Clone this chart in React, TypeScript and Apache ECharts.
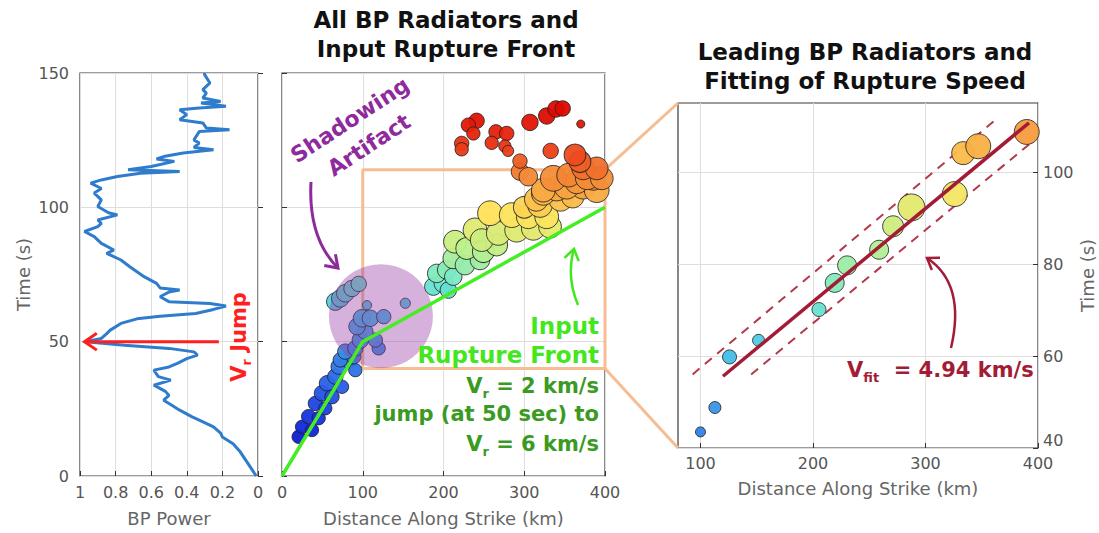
import React, { useEffect, useRef } from "react";
import * as echarts from "echarts";

// ---------- Left panel: beam-power time series ----------
const bpTime = [0, 3, 6, 9, 12, 14.5, 16, 18.3, 20.8, 22, 24.5, 27, 28.2, 30, 31.5, 33.8, 35.7, 37, 39.4, 40.6, 42, 43.7, 45, 46.2, 47.5, 48.7, 50, 51.2, 53, 54.3, 56.8, 58.5, 59.5, 60.5, 62, 63.3, 64.2, 64.9, 66.7, 68.5, 69.2, 70, 71.7, 74.2, 76, 77.9, 80.4, 82.9, 84.1, 86.6, 89.1, 91, 92.8, 94, 95.3, 97.2, 98, 100.3, 102.8, 105.3, 107, 109, 110.2, 111.5, 112.7, 113.3, 114, 115.2, 117.1, 118, 118.9, 120.2, 121.4, 122.3, 123.9, 125.1, 128.2, 128.9, 129.5, 131.4, 132.6, 134.5, 136.3, 137, 137.6, 138.8, 139.4, 140.7, 142.5, 143.8, 146.3, 149.4, 150];
const bpPower = [0.01, 0.04, 0.07, 0.1, 0.14, 0.2, 0.21, 0.25, 0.33, 0.37, 0.44, 0.5, 0.53, 0.5, 0.52, 0.585, 0.49, 0.56, 0.585, 0.5, 0.45, 0.4, 0.34, 0.36, 0.5, 0.75, 0.97, 0.88, 0.85, 0.83, 0.77, 0.68, 0.55, 0.35, 0.25, 0.18, 0.27, 0.5, 0.55, 0.5, 0.44, 0.55, 0.57, 0.64, 0.68, 0.72, 0.77, 0.85, 0.81, 0.88, 0.92, 0.975, 0.9, 0.88, 0.9, 0.79, 0.84, 0.9, 0.88, 0.92, 0.88, 0.94, 0.88, 0.79, 0.66, 0.44, 0.73, 0.6, 0.47, 0.57, 0.53, 0.42, 0.25, 0.36, 0.33, 0.36, 0.33, 0.16, 0.29, 0.31, 0.44, 0.4, 0.44, 0.33, 0.18, 0.32, 0.21, 0.31, 0.29, 0.31, 0.27, 0.3, 0.3];
const jumpTime = 50;
const jumpPower = [0.22, 0.975];

// ---------- Middle panel: all BP radiators [distance km, time s, relative power] ----------
const allRadiators = [
  [20.6, 14.6, 0.3], [24.8, 18.3, 0.3], [37.1, 17.1, 0.3], [33, 22.1, 0.35], [45.4, 21.5, 0.3],
  [41.3, 27, 0.35], [53.6, 25.2, 0.3], [49.5, 30.8, 0.4], [61.9, 29.5, 0.35], [55.7, 34.5, 0.4],
  [74.3, 33.2, 0.3], [66, 37, 0.4], [70.2, 40.7, 0.4], [82.6, 43.2, 0.45], [90.8, 39.4, 0.3],
  [72.2, 43.2, 0.35], [88.8, 44.4, 0.35], [78.4, 46.3, 0.4], [90.8, 47.5, 0.4], [119.7, 47.5, 0.3],
  [97, 50.6, 0.45], [115.6, 50.6, 0.35], [103.2, 53.7, 0.4], [92.9, 55.6, 0.45], [99, 58.7, 0.5],
  [109.4, 58.7, 0.45], [126, 59.3, 0.35], [105.3, 63.6, 0.1], [152.7, 64.3, 0.15],
  [66, 64.9, 0.5], [72.2, 66.1, 0.5], [78.4, 68, 0.5], [86.7, 69.8, 0.45], [95, 71.5, 0.4],
  [187.4, 70.5, 0.5], [199.8, 71.7, 0.55], [206, 69.2, 0.45], [191.6, 75.4, 0.55], [204, 76.7, 0.55],
  [212.1, 74.2, 0.5], [212.1, 81, 0.65], [226.6, 78.5, 0.6], [245.2, 80.4, 0.6], [214.2, 87.2, 0.75],
  [228.7, 84.7, 0.7], [249.3, 83.5, 0.7], [265.9, 86, 0.7], [239, 91.6, 0.8], [247.3, 87.8, 0.75],
  [267.9, 90.3, 0.8], [290.6, 91.5, 0.8], [311.2, 92.2, 0.8], [257.6, 97.8, 0.85], [284.5, 97.1, 0.85],
  [305, 96.5, 0.8], [331.9, 92.8, 0.75], [327.8, 96.5, 0.8], [300, 100, 0.7], [319.5, 100.9, 0.85],
  [315, 103, 0.8], [345, 103, 0.8], [360, 104, 0.75], [323.6, 105.2, 0.8], [340, 107, 0.85],
  [373, 107.7, 0.85], [389.7, 106.4, 0.85], [323.6, 106.4, 0.8], [352.5, 107.7, 0.85], [365, 109.5, 0.8],
  [385.5, 110.8, 0.8], [336, 110.8, 0.9], [355, 112, 0.8], [378, 111, 0.8], [396, 110.8, 0.75],
  [373, 114.5, 0.75], [389.7, 114.5, 0.75], [369, 117, 0.7], [362.8, 119.5, 0.7], [294.7, 113.3, 0.5],
  [305, 111.4, 0.55], [294.7, 117.2, 0.35], [332.7, 121, 0.4],
  [241, 132.2, 0.4], [230.8, 130.6, 0.35], [237, 127.5, 0.3], [222.5, 123.8, 0.35], [222.5, 121.6, 0.3],
  [265, 128.1, 0.35], [278.3, 127.5, 0.35], [259.7, 124, 0.3], [276, 122.8, 0.25], [280, 121, 0.2],
  [307, 131.6, 0.45], [327.8, 134, 0.45], [339.3, 136.6, 0.45], [347.6, 136.8, 0.4], [370, 131, 0.05],
];
const frontDistance = [0, 100, 400];
const frontTime = [0, 50, 100];
const zoomBoxDistance = [100, 100, 400, 400, 100];
const zoomBoxTime = [40, 114, 114, 40, 40];
const shadowCenter = [122.5, 59.5];

// ---------- Right panel: leading BP radiators ----------
const leadingRadiators = [
  [100, 43.5, 0.15], [112.8, 48.8, 0.25], [125.8, 59.8, 0.35], [151.6, 63.4, 0.25], [205.3, 70.1, 0.35],
  [219.3, 75.9, 0.6], [230.3, 79.7, 0.6], [258.8, 83.1, 0.6], [271.2, 88.2, 0.7], [287.5, 92.3, 1.0],
  [326, 95.2, 0.9], [333.5, 104.1, 0.8], [346.9, 105.6, 0.9], [390, 108.7, 0.9],
];
const fitDistance = [120, 392];
const fitTime = [55.6, 110.7];
const upperDistance = [93, 363];
const upperTime = [56, 111.5];
const lowerDistance = [145, 392];
const lowerTime = [56, 106];
const distTicksRight = [100, 200, 300, 400];
const timeTicksRight = [40, 60, 80, 100];

// time colour scale (jet-like)
const timeColors = ["#0b10c8", "#1634e0", "#2a62e8", "#3890e6", "#45bfe8", "#6fe8cc", "#bdf08a", "#ffe45a", "#f5943a", "#ea3414", "#dd0a00"];

const zip = (a: number[], b: number[]) => a.map((v, i) => [v, b[i]]);

const AX_FONT = "DejaVu Sans, Verdana, sans-serif";
const BOLD = "DejaVu Sans, Verdana, sans-serif";

function chevron(tip: number[], ang: number, len = 13, spread = 0.55) {
  const a1 = ang + Math.PI - spread;
  const a2 = ang + Math.PI + spread;
  return [
    [tip[0] + len * Math.cos(a1), tip[1] + len * Math.sin(a1)],
    [tip[0], tip[1]],
    [tip[0] + len * Math.cos(a2), tip[1] + len * Math.sin(a2)],
  ];
}

function axisCommon() {
  return {
    axisLine: { show: false },
    axisTick: { show: true, inside: true, length: 5, lineStyle: { color: "#333" } },
    splitLine: { show: true, lineStyle: { color: "#dedede", width: 1 } },
    axisLabel: { fontSize: 16, color: "#555", fontFamily: AX_FONT },
    nameTextStyle: { fontSize: 18, color: "#666", fontFamily: AX_FONT },
  };
}

export default function App() {
  const ref = useRef<HTMLDivElement>(null);
  useEffect(() => {
    const chart = echarts.init(ref.current!, null, { renderer: "svg" });
    const c = axisCommon();
    const option: any = {
      animation: false,
      backgroundColor: "#fff",
      grid: [
        { left: 80, top: 73, width: 178, height: 403, show: true, borderColor: "#3a3a3a", borderWidth: 1.2 },
        { left: 282, top: 73, width: 323, height: 403, show: true, borderColor: "#3a3a3a", borderWidth: 1.2 },
        { left: 678, top: 103, width: 360, height: 345, show: true, borderColor: "#3a3a3a", borderWidth: 1.2 },
      ],
      xAxis: [
        {
          ...c, gridIndex: 0, type: "value", min: 0, max: 1, interval: 0.2, inverse: true,
          name: "BP Power", nameLocation: "middle", nameGap: 33,
          axisLabel: { ...c.axisLabel, margin: 8 },
        },
        {
          ...c, gridIndex: 1, type: "value", min: 0, max: 400, interval: 100,
          name: "Distance Along Strike (km)", nameLocation: "middle", nameGap: 33,
          axisLabel: { ...c.axisLabel, margin: 8 },
        },
        {
          ...c, gridIndex: 2, type: "value", min: 80, max: 400,
          name: "Distance Along Strike (km)", nameLocation: "middle", nameGap: 31,
          axisTick: { ...c.axisTick, customValues: distTicksRight },
          axisLabel: { ...c.axisLabel, margin: 7, customValues: distTicksRight },
        },
      ],
      yAxis: [
        {
          ...c, gridIndex: 0, type: "value", min: 0, max: 150, interval: 50,
          name: "Time (s)", nameLocation: "middle", nameRotate: 90, nameGap: 48,
          axisLabel: { ...c.axisLabel, margin: 11 },
        },
        {
          ...c, gridIndex: 1, type: "value", min: 0, max: 150, interval: 50,
          axisLabel: { show: false },
        },
        {
          ...c, gridIndex: 2, type: "value", position: "right", min: 40, max: 115,
          name: "Time (s)", nameLocation: "middle", nameRotate: 90, nameGap: 40,
          axisTick: { ...c.axisTick, customValues: timeTicksRight },
          axisLabel: { ...c.axisLabel, margin: 5, customValues: timeTicksRight, verticalAlignMinLabel: "bottom" },
        },
      ],
      visualMap: {
        type: "continuous", show: false, dimension: 1, seriesIndex: [3, 8],
        min: 10, max: 135, inRange: { color: timeColors },
      },
      series: [
        {
          type: "line", xAxisIndex: 0, yAxisIndex: 0, data: zip(bpPower, bpTime),
          showSymbol: false, symbol: "none", lineStyle: { color: "#2f7ccc", width: 3 }, z: 3,
        },
        {
          type: "line", xAxisIndex: 0, yAxisIndex: 0, data: jumpPower.map((p) => [p, jumpTime]),
          symbol: "none", lineStyle: { color: "#ff1f1f", width: 3 }, z: 4,
        },
        {
          type: "line", xAxisIndex: 1, yAxisIndex: 1, data: zip(zoomBoxDistance, zoomBoxTime),
          symbol: "none", lineStyle: { color: "#f7bd92", width: 3 }, z: 1,
        },
        {
          type: "scatter", xAxisIndex: 1, yAxisIndex: 1, data: allRadiators,
          symbolSize: (v: number[]) => 7 + 21 * v[2],
          itemStyle: { borderColor: "rgba(30,30,30,0.85)", borderWidth: 1, opacity: 0.95 }, z: 2,
        },
        {
          type: "scatter", xAxisIndex: 1, yAxisIndex: 1, data: [shadowCenter], symbolSize: 104, silent: true,
          itemStyle: { color: "rgba(150,60,165,0.5)" }, z: 3,
        },
        {
          type: "line", xAxisIndex: 1, yAxisIndex: 1, data: zip(frontDistance, frontTime),
          symbol: "none", lineStyle: { color: "#44ee22", width: 3.5 }, z: 4,
        },
        {
          type: "line", xAxisIndex: 2, yAxisIndex: 2, data: zip(upperDistance, upperTime),
          symbol: "none", lineStyle: { color: "#b4384c", width: 2, type: [9, 7] }, z: 2,
        },
        {
          type: "line", xAxisIndex: 2, yAxisIndex: 2, data: zip(lowerDistance, lowerTime),
          symbol: "none", lineStyle: { color: "#b4384c", width: 2, type: [9, 7] }, z: 2,
        },
        {
          type: "scatter", xAxisIndex: 2, yAxisIndex: 2, data: leadingRadiators,
          symbolSize: (v: number[]) => 7 + 20 * v[2],
          itemStyle: { borderColor: "rgba(30,30,30,0.85)", borderWidth: 1, opacity: 0.95 }, z: 3,
        },
        {
          type: "line", xAxisIndex: 2, yAxisIndex: 2, data: zip(fitDistance, fitTime),
          symbol: "none", lineStyle: { color: "#a31c36", width: 3.5 }, z: 4,
        },
      ],
    };
    chart.setOption(option);

    const px = (g: number, v: number[]) => chart.convertToPixel({ gridIndex: g } as any, v) as number[];
    const boxTL = px(1, [400, 114]);
    const boxBL = px(1, [400, 40]);
    const rTL = px(2, [80, 115]);
    const rBL = px(2, [80, 40]);
    const jumpTip = px(0, [jumpPower[1], jumpTime]);

    const titleStyle = { font: `bold 23px ${BOLD}`, fill: "#111", align: "center", verticalAlign: "middle" };
    const green = "#44e61e";
    const dgreen = "#3a9a22";
    const purple = "#8e2a9c";
    const dred = "#a31c36";
    const subRich = (col: string, size: number) => ({
      m: { fontSize: size, fontWeight: "bold", fontFamily: BOLD, fill: col, lineHeight: 28 },
      s: { fontSize: Math.round(size * 0.6), fontWeight: "bold", fontFamily: BOLD, fill: col, lineHeight: 12, verticalAlign: "bottom" },
    });

    const graphic: any[] = [
      { type: "line", shape: { x1: boxTL[0], y1: boxTL[1], x2: rTL[0], y2: rTL[1] }, style: { stroke: "#f7bd92", lineWidth: 3 }, z: 1 },
      { type: "line", shape: { x1: boxBL[0], y1: boxBL[1], x2: rBL[0], y2: rBL[1] }, style: { stroke: "#f7bd92", lineWidth: 3 }, z: 1 },
      { type: "polyline", shape: { points: chevron(jumpTip, Math.PI, 15, 0.6) }, style: { stroke: "#ff1f1f", lineWidth: 3, fill: "none" }, z: 10 },
      {
        type: "text", x: 239, y: 337, rotation: Math.PI / 2, z: 10,
        style: { text: "{m|V}{s|r}{m| Jump}", rich: subRich("#ff1f1f", 21), align: "center", verticalAlign: "middle" },
      },
      { type: "text", x: 446, y: 20, z: 10, style: { ...titleStyle, text: "All BP Radiators and" } },
      { type: "text", x: 446, y: 49, z: 10, style: { ...titleStyle, text: "Input Rupture Front" } },
      { type: "text", x: 865, y: 52, z: 10, style: { ...titleStyle, text: "Leading BP Radiators and" } },
      { type: "text", x: 865, y: 81, z: 10, style: { ...titleStyle, text: "Fitting of Rupture Speed" } },
      {
        type: "text", x: 350, y: 120, rotation: 0.58, z: 10,
        style: { text: "Shadowing", font: `bold 22px ${BOLD}`, fill: purple, align: "center", verticalAlign: "middle" },
      },
      {
        type: "text", x: 369, y: 145, rotation: 0.58, z: 10,
        style: { text: "Artifact", font: `bold 22px ${BOLD}`, fill: purple, align: "center", verticalAlign: "middle" },
      },
      { type: "bezierCurve", shape: { x1: 311, y1: 182, cpx1: 308, cpy1: 238, x2: 338, y2: 268 }, style: { stroke: purple, lineWidth: 3, fill: "none" }, z: 10 },
      { type: "polyline", shape: { points: chevron([338, 268], Math.atan2(30, 30), 14, 0.6) }, style: { stroke: purple, lineWidth: 3, fill: "none" }, z: 10 },
      { type: "text", x: 599, y: 326, z: 10, style: { text: "Input", font: `bold 23px ${BOLD}`, fill: green, align: "right", verticalAlign: "middle" } },
      { type: "text", x: 599, y: 355, z: 10, style: { text: "Rupture Front", font: `bold 23px ${BOLD}`, fill: green, align: "right", verticalAlign: "middle" } },
      {
        type: "text", x: 599, y: 386, z: 10,
        style: { text: "{m|V}{s|r}{m| = 2 km/s}", rich: subRich(dgreen, 21), align: "right", verticalAlign: "middle" },
      },
      { type: "text", x: 599, y: 414, z: 10, style: { text: "jump (at 50 sec) to", font: `bold 21px ${BOLD}`, fill: dgreen, align: "right", verticalAlign: "middle" } },
      {
        type: "text", x: 599, y: 444, z: 10,
        style: { text: "{m|V}{s|r}{m| = 6 km/s}", rich: subRich(dgreen, 21), align: "right", verticalAlign: "middle" },
      },
      { type: "bezierCurve", shape: { x1: 578, y1: 305, cpx1: 566, cpy1: 276, x2: 574, y2: 249 }, style: { stroke: green, lineWidth: 2.5, fill: "none" }, z: 10 },
      { type: "polyline", shape: { points: chevron([574, 249], Math.atan2(-26, 6), 13, 0.6) }, style: { stroke: green, lineWidth: 2.5, fill: "none" }, z: 10 },
      { type: "bezierCurve", shape: { x1: 951, y1: 348, cpx1: 966, cpy1: 284, x2: 927, y2: 258 }, style: { stroke: dred, lineWidth: 2.5, fill: "none" }, z: 10 },
      { type: "polyline", shape: { points: chevron([927, 258], Math.atan2(-24, -36), 13, 0.6) }, style: { stroke: dred, lineWidth: 2.5, fill: "none" }, z: 10 },
      {
        type: "text", x: 847, y: 370, z: 10,
        style: {
          text: "{m|V}{s|fit}{m|  = 4.94 km/s}", align: "left", verticalAlign: "middle",
          rich: {
            m: { fontSize: 21, fontWeight: "bold", fontFamily: BOLD, fill: dred, lineHeight: 28 },
            s: { fontSize: 13, fontWeight: "bold", fontFamily: BOLD, fill: dred, lineHeight: 12, verticalAlign: "bottom" },
          },
        },
      },
    ];
    chart.setOption({ graphic });
    return () => chart.dispose();
  }, []);
  return <div ref={ref} style={{ position: "absolute", left: 0, top: 0, width: 1099, height: 533 }} />;
}
